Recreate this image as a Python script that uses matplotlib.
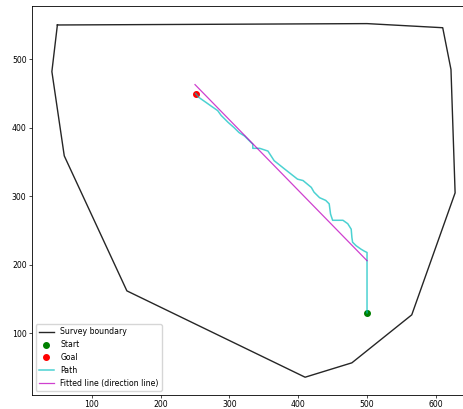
"""
路径规划结果图：测区边界 + 起点/终点 + 实际路径 + 拟合方向线。
运行: python plot.py  -> 生成 out.png
"""

import matplotlib
matplotlib.use("Agg")
import matplotlib.pyplot as plt

# === 可调参数 ===
FIG_SIZE = (4.63, 4.09)   # 英寸，配合 DPI=100 -> 463x409 像素
SAVE_DPI = 100
FONT_SIZE = 5.6
# 坐标轴位置（右侧故意超出画布，与原图被裁切的效果一致）
AX_RECT = [0.0685, 0.0345, 0.958, 0.951]

# === 数据 ===
# 测区边界（闭合多边形）
boundary_x = [50, 500, 610, 622, 628, 565, 478, 410, 151, 60, 42, 50]
boundary_y = [550, 552, 546, 485, 305, 127, 57, 36, 162, 359, 482, 550]

# 起点与终点
start_x, start_y = 500, 130
goal_x, goal_y = 251, 450

# 实际行走路径（从起点到终点）
path_x = [500, 500, 496, 491, 484, 479, 478, 477, 472, 465, 450, 447, 445,
          440, 431, 423, 419, 407, 399, 380, 365, 356, 344, 334, 334, 329,
          322, 314, 307, 298, 288, 283, 273, 266, 256, 251]
path_y = [130, 218, 220, 223, 228, 233, 240, 252, 260, 265, 265, 274, 289,
          294, 298, 306, 313, 323, 325, 340, 352, 366, 370, 370, 376, 381,
          388, 393, 400, 408, 418, 425, 432, 437, 444, 450]

# 拟合直线（方向线）的两个端点
fit_x = [250, 500]
fit_y = [463, 206]


def main():
    plt.rcParams["font.size"] = FONT_SIZE
    plt.rcParams["axes.linewidth"] = 0.6
    for ax_name in ("xtick", "ytick"):
        plt.rcParams[f"{ax_name}.major.size"] = 2.2
        plt.rcParams[f"{ax_name}.major.width"] = 0.5
        plt.rcParams[f"{ax_name}.major.pad"] = 1.5

    fig = plt.figure(figsize=FIG_SIZE, dpi=SAVE_DPI)
    ax = fig.add_axes(AX_RECT)

    # 1) 边界
    ax.plot(boundary_x, boundary_y, color="k", alpha=0.85, linewidth=1.0,
            label="Survey boundary")
    # 2) 起点 / 终点
    ax.plot(start_x, start_y, "o", color="g", markersize=4.0, label="Start")
    ax.plot(goal_x, goal_y, "o", color="r", markersize=4.0, label="Goal")
    # 3) 路径
    ax.plot(path_x, path_y, color="c", alpha=0.7, linewidth=1.1, label="Path")
    # 4) 拟合方向线
    ax.plot(fit_x, fit_y, color="m", alpha=0.75, linewidth=0.9,
            label="Fitted line (direction line)")

    ax.legend(loc="lower left")

    fig.savefig("out.png", dpi=SAVE_DPI)


if __name__ == "__main__":
    main()
